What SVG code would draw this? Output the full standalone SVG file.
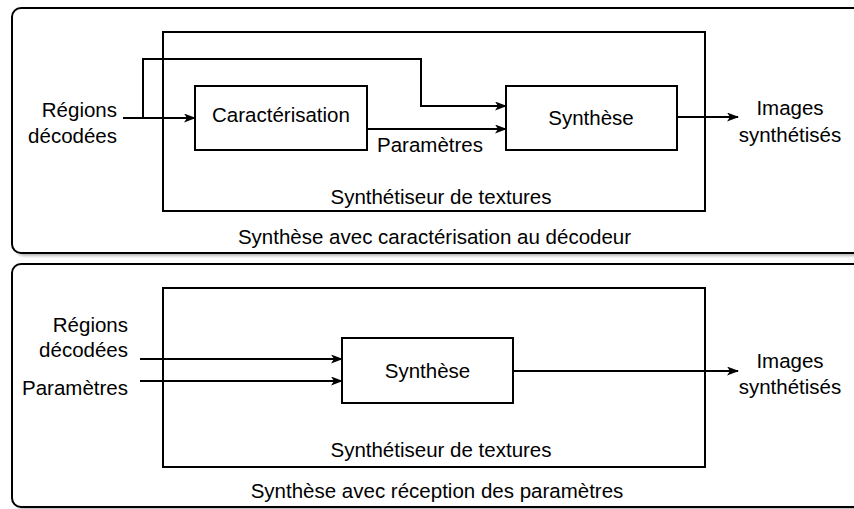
<svg xmlns="http://www.w3.org/2000/svg" width="854" height="509" viewBox="0 0 854 509">
<defs>
<style>
.panel{fill:#fff;stroke:#000;stroke-width:2}
.shadow{fill:#000;opacity:0.28}
.box{fill:#fff;stroke:#000;stroke-width:2}
.conn{fill:none;stroke:#000;stroke-width:2;marker-end:url(#arr)}
.line{fill:none;stroke:#000;stroke-width:2}
text{font-family:"Liberation Sans",Arial,sans-serif;font-size:20.5px;fill:#000}
.c{text-anchor:middle}
.r{text-anchor:end}
</style>
<filter id="blur" x="-5%" y="-5%" width="110%" height="110%"><feGaussianBlur stdDeviation="1.5"/></filter>
<marker id="arr" viewBox="0 0 12 9" refX="11" refY="4.5" markerWidth="12" markerHeight="9" markerUnits="userSpaceOnUse" orient="auto">
<path d="M0,0 L12,4.5 L0,9 L3,4.5 z" fill="#000"/>
</marker>
</defs>

<g id="panel-top">
<rect class="shadow" x="15" y="11" width="870" height="245" rx="9" filter="url(#blur)"/>
<rect class="panel" x="12" y="8" width="870" height="245" rx="9"/>
<text class="c" x="434.5" y="244">Synthèse avec caractérisation au décodeur</text>
</g>
<g id="synth-top">
<rect class="box" x="163" y="32" width="542" height="179"/>
<text class="c" x="441" y="204">Synthétiseur de textures</text>
</g>
<g id="caract">
<rect class="box" x="195" y="86" width="172" height="64"/>
<text class="c" x="281" y="122">Caractérisation</text>
</g>
<g id="synthese-top">
<rect class="box" x="506" y="86" width="171" height="64"/>
<text class="c" x="591" y="125">Synthèse</text>
</g>
<g id="in-top">
<text class="r" x="117" y="117">Régions</text>
<text class="r" x="117" y="143">décodées</text>
</g>
<g id="out-top">
<text class="c" x="790" y="115">Images</text>
<text class="c" x="790" y="142">synthétisés</text>
</g>
<g id="param-label-top">
<text class="c" x="430" y="152">Paramètres</text>
</g>

<g id="panel-bottom">
<rect class="shadow" x="15" y="267" width="870" height="243" rx="9" filter="url(#blur)"/>
<rect class="panel" x="12" y="264" width="870" height="243" rx="9"/>
<text class="c" x="437" y="498">Synthèse avec réception des paramètres</text>
</g>
<g id="synth-bottom">
<rect class="box" x="163" y="288" width="542" height="179"/>
<text class="c" x="441" y="457">Synthétiseur de textures</text>
</g>
<g id="synthese-bottom">
<rect class="box" x="342" y="338" width="171" height="65"/>
<text class="c" x="427.5" y="378">Synthèse</text>
</g>
<g id="in-bottom">
<text class="r" x="128" y="332">Régions</text>
<text class="r" x="128" y="357">décodées</text>
<text class="r" x="128" y="395">Paramètres</text>
</g>
<g id="out-bottom">
<text class="c" x="790" y="368">Images</text>
<text class="c" x="790" y="394">synthétisés</text>
</g>

<g id="connectors">
<path class="conn" d="M123,118 L195,118"/>
<path class="conn" d="M143,118 L143,59 L421,59 L421,106 L506,106"/>
<path class="conn" d="M367,129 L506,129"/>
<path class="conn" d="M677,117 L738,117"/>
<path class="conn" d="M140,359 L342,359"/>
<path class="conn" d="M140,381 L342,381"/>
<path class="conn" d="M513,371 L738,371"/>
</g>
</svg>
